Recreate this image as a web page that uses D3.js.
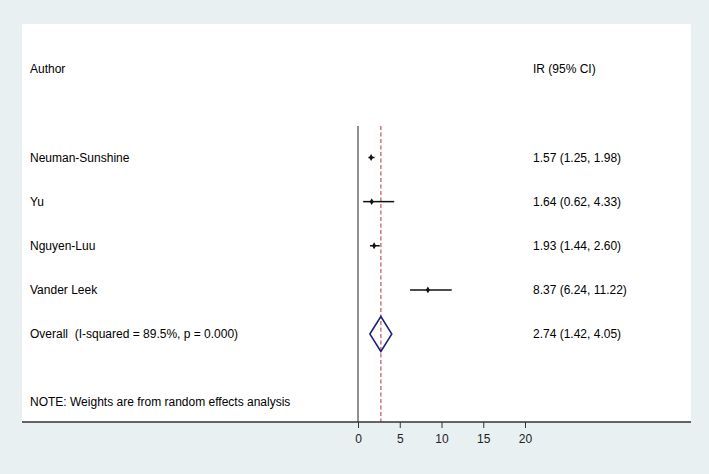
<!DOCTYPE html>
<html>
<head>
<meta charset="utf-8">
<script src="https://cdn.jsdelivr.net/npm/d3@7"></script>
<style>
  body { margin: 0; background: #e8f0f2; }
  svg { display: block; font-family: "Liberation Sans", Arial, sans-serif; }
  text { white-space: pre; }
</style>
</head>
<body>
<svg id="chart"></svg>
<script>
    var authors = ['Neuman-Sunshine', 'Yu', 'Nguyen-Luu', 'Vander Leek'];
    var estimates = [1.57, 1.64, 1.93, 8.37];
    var lower = [1.25, 0.62, 1.44, 6.24];
    var upper = [1.98, 4.33, 2.60, 11.22];
    var ciLabels = ['1.57 (1.25, 1.98)', '1.64 (0.62, 4.33)', '1.93 (1.44, 2.60)', '8.37 (6.24, 11.22)'];

    var overallLabel = 'Overall  (I-squared = 89.5%, p = 0.000)';
    var overall = [2.74, 1.42, 4.05];
    var overallText = '2.74 (1.42, 4.05)';
    var xTicks = [0, 5, 10, 15, 20];

    var width = 709;
    var height = 474;

    var svg = d3.select('#chart')
        .attr('width', width)
        .attr('height', height);

    // plot region (white)
    svg.append('rect')
        .attr('x', 22)
        .attr('y', 24)
        .attr('width', 669)
        .attr('height', 398)
        .attr('fill', '#ffffff');

    var x = d3.scaleLinear().domain([0, 20]).range([358, 525]);

    var rows = authors.concat([overallLabel]);
    var y = d3.scalePoint().domain(rows).range([157.5, 334]);

    var axisY = 422;
    var topY = 126;

    // headers
    svg.append('text').attr('x', 30).attr('y', 73).attr('font-size', 12).text('Author');
    svg.append('text').attr('x', 533).attr('y', 73).attr('font-size', 12).text('IR (95% CI)');

    // null line
    svg.append('line')
        .attr('x1', x(0)).attr('x2', x(0))
        .attr('y1', topY).attr('y2', axisY)
        .attr('stroke', '#555').attr('stroke-width', 1.3);

    // overall dashed line
    svg.append('line')
        .attr('x1', x(overall[0])).attr('x2', x(overall[0]))
        .attr('y1', topY).attr('y2', axisY)
        .attr('stroke', '#c0626e').attr('stroke-width', 1.3)
        .attr('stroke-dasharray', '4,2.5');

    var study = svg.selectAll('g.study')
        .data(authors)
        .enter()
        .append('g')
        .attr('class', 'study');

    study.append('text')
        .attr('x', 30)
        .attr('y', function(d) { return y(d) + 4; })
        .attr('font-size', 12)
        .text(function(d) { return d; });

    study.append('line')
        .attr('x1', function(d, i) { return x(lower[i]); })
        .attr('x2', function(d, i) { return x(upper[i]); })
        .attr('y1', function(d) { return y(d); })
        .attr('y2', function(d) { return y(d); })
        .attr('stroke', '#111').attr('stroke-width', 1.5);

    study.append('path')
        .attr('d', d3.symbol(d3.symbolDiamond, 14))
        .attr('transform', function(d, i) { return 'translate(' + x(estimates[i]) + ',' + y(d) + ')'; })
        .attr('fill', '#111');

    study.append('text')
        .attr('x', 533)
        .attr('y', function(d) { return y(d) + 4; })
        .attr('font-size', 12)
        .text(function(d, i) { return ciLabels[i]; });

    // overall row
    var oy = y(overallLabel);
    svg.append('text').attr('x', 30).attr('y', oy + 4).attr('font-size', 12).text(overallLabel);
    svg.append('path')
        .attr('d', 'M' + x(overall[1]) + ',' + oy +
                   'L' + x(overall[0]) + ',' + (oy - 17.5) +
                   'L' + x(overall[2]) + ',' + oy +
                   'L' + x(overall[0]) + ',' + (oy + 17.5) + 'Z')
        .attr('fill', 'none')
        .attr('stroke', '#1a1f7a').attr('stroke-width', 1.5);
    svg.append('text').attr('x', 533).attr('y', oy + 4).attr('font-size', 12).text(overallText);

    svg.append('text').attr('x', 30).attr('y', 406).attr('font-size', 12)
        .text('NOTE: Weights are from random effects analysis');

    // x axis
    var axis = svg.append('g')
        .attr('transform', 'translate(0,' + axisY + ')')
        .call(d3.axisBottom(x).tickValues(xTicks).tickSize(6).tickSizeOuter(0));
    axis.select('.domain').remove();
    axis.selectAll('.tick line').attr('stroke', '#333');
    axis.selectAll('.tick text').attr('font-size', 12).attr('fill', '#222')
        .attr('font-family', '"Liberation Sans", Arial, sans-serif').attr('dy', '1.0em');

    svg.append('line')
        .attr('x1', 22).attr('x2', 691)
        .attr('y1', axisY).attr('y2', axisY)
        .attr('stroke', '#333').attr('stroke-width', 1.5);
</script>
</body>
</html>
